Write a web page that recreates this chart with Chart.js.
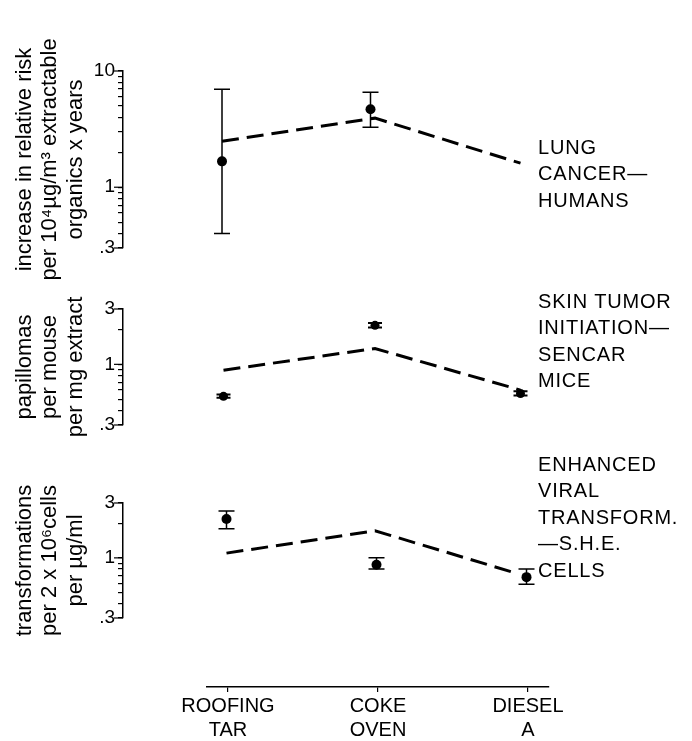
<!DOCTYPE html>
<html>
<head>
<meta charset="utf-8">
<script src="https://cdn.jsdelivr.net/npm/chart.js@4.4.0/dist/chart.umd.min.js"></script>
<style>
html,body{margin:0;padding:0;background:#fff;}
#wrap{position:relative;width:692px;height:741px;overflow:hidden;background:#fff;}
canvas{position:absolute;left:0;}
</style>
</head>
<body>
<div id="wrap">
<canvas id="p1" width="692" height="300" style="top:0px"></canvas>
<canvas id="p2" width="692" height="190" style="top:270px"></canvas>
<canvas id="p3" width="692" height="215" style="top:445px"></canvas>
<canvas id="px" width="692" height="86" style="top:655px"></canvas>
</div>
<script>
// ---------- data ----------
const categories = [["ROOFING", "TAR"], ["COKE", "OVEN"], ["DIESEL", "A"]];
const categoryX = [0, 1, 2];

// Panel 1: lung cancer in humans
const lungTitle = ["increase in relative risk", "per 10⁴µg/m³ extractable", "organics x years"];
const lungAxisTicks = [0.3, 0.4, 0.5, 0.6, 0.7, 0.8, 0.9, 1, 2, 3, 4, 5, 6, 7, 8, 9, 10];
const lungMajorTicks = [0.3, 1, 10];
const lungMajorLabels = [".3", "1", "10"];
const lungPointX = [-0.04, 0.95];
const lungValue = [1.67, 4.69];
const lungLow = [0.40, 3.28];
const lungHigh = [6.97, 6.57];
const lungLineX = [-0.04, 0.98, 1.95];
const lungLineY = [2.49, 3.93, 1.61];
const lungLabel = ["LUNG", "CANCER—", "HUMANS"];

// Panel 2: skin tumor initiation, SENCAR mice
const skinTitle = ["papillomas", "per mouse", "per mg extract"];
const skinAxisTicks = [0.3, 0.4, 0.5, 0.6, 0.7, 0.8, 0.9, 1, 2, 3];
const skinMajorTicks = [0.3, 1, 3];
const skinMajorLabels = [".3", "1", "3"];
const skinPointX = [-0.03, 0.98, 1.95];
const skinValue = [0.53, 2.17, 0.56];
const skinLow = [0.515, 2.08, 0.54];
const skinHigh = [0.55, 2.27, 0.585];
const skinLineX = [-0.03, 0.98, 1.95];
const skinLineY = [0.89, 1.37, 0.60];
const skinLabel = ["SKIN TUMOR", "INITIATION—", "SENCAR", "MICE"];

// Panel 3: enhanced viral transformation, S.H.E. cells
const sheTitle = ["transformations", "per 2 x 10⁶cells", "per µg/ml"];
const sheAxisTicks = [0.3, 0.4, 0.5, 0.6, 0.7, 0.8, 0.9, 1, 2, 3];
const sheMajorTicks = [0.3, 1, 3];
const sheMajorLabels = [".3", "1", "3"];
const shePointX = [-0.01, 0.99, 1.99];
const sheValue = [2.18, 0.87, 0.68];
const sheLow = [1.79, 0.80, 0.59];
const sheHigh = [2.56, 1.00, 0.80];
const sheLineX = [-0.01, 0.98, 1.93];
const sheLineY = [1.10, 1.72, 0.73];
const sheLabel = ["ENHANCED", "VIRAL", "TRANSFORM.", "—S.H.E.", "CELLS"];

// ---------- rendering ----------
const FONT = "'Liberation Sans', Arial, Helvetica, sans-serif";

function panelPlugin(cfg) {
  return {
    id: 'panelDecor',
    afterDatasetsDraw(chart) {
      const {ctx, scales: {x, y}} = chart;
      ctx.save();
      ctx.strokeStyle = '#000';
      ctx.lineWidth = cfg.errWidth;
      cfg.px.forEach((xv, i) => {
        const p = x.getPixelForValue(xv);
        const a = y.getPixelForValue(cfg.lo[i]);
        const b = y.getPixelForValue(cfg.hi[i]);
        ctx.beginPath();
        ctx.moveTo(p, a); ctx.lineTo(p, b);
        ctx.moveTo(p - cfg.cap, a); ctx.lineTo(p + cfg.cap, a);
        ctx.moveTo(p - cfg.cap, b); ctx.lineTo(p + cfg.cap, b);
        ctx.stroke();
      });
      ctx.restore();
    },
    afterDraw(chart) {
      const {ctx, chartArea, scales: {x, y}} = chart;
      ctx.save();
      // longer marks for the labelled ticks
      ctx.strokeStyle = '#000';
      ctx.lineWidth = 1.2;
      cfg.majors.forEach(v => {
        const p = y.getPixelForValue(v);
        ctx.beginPath();
        ctx.moveTo(chartArea.left - 9, p);
        ctx.lineTo(chartArea.left, p);
        ctx.stroke();
      });
      // side labels
      ctx.fillStyle = '#000';
      ctx.font = '20px ' + FONT;
      ctx.textAlign = 'left';
      ctx.textBaseline = 'middle';
      try { ctx.letterSpacing = '0.8px'; } catch (e) {}
      const x0 = x.getPixelForValue(2) + 10;
      cfg.label.forEach((t, i) => {
        ctx.fillText(t, x0, chartArea.top + cfg.labelDy + i * 26.5);
      });
      ctx.restore();
    }
  };
}

function makePanel(id, d) {
  const isMajor = v => d.majors.findIndex(m => Math.abs(m - v) < 1e-9);
  new Chart(document.getElementById(id), {
    type: 'scatter',
    data: {
      datasets: [
        {
          data: d.lineX.map((xv, i) => ({x: xv, y: d.lineY[i]})),
          showLine: true,
          borderColor: '#000',
          borderWidth: 3,
          borderDash: [17, 8],
          borderCapStyle: 'butt',
          pointRadius: 0,
          fill: false
        },
        {
          data: d.px.map((xv, i) => ({x: xv, y: d.val[i]})),
          showLine: false,
          pointRadius: d.r,
          pointBackgroundColor: '#000',
          pointBorderColor: '#000',
          pointBorderWidth: 0
        }
      ]
    },
    options: {
      responsive: false,
      animation: false,
      devicePixelRatio: 1,
      events: [],
      layout: {padding: {left: 0, right: 143, top: d.padTop, bottom: d.padBottom}},
      plugins: {legend: {display: false}, tooltip: {enabled: false}},
      scales: {
        x: {type: 'linear', display: false, min: -0.7, max: 2.14},
        y: {
          type: 'logarithmic',
          position: 'left',
          min: d.ticks[0],
          max: d.ticks[d.ticks.length - 1],
          afterBuildTicks: s => { s.ticks = d.ticks.map(v => ({value: v})); },
          afterFit: s => { s.width = 123; },
          ticks: {
            autoSkip: false,
            color: '#000',
            padding: 3,
            font: {family: FONT, size: 19},
            callback: v => { const k = isMajor(v); return k >= 0 ? d.majorLabels[k] : ''; }
          },
          grid: {drawOnChartArea: false, drawTicks: true, tickLength: 5, color: '#000', lineWidth: 1.2},
          border: {display: true, color: '#000', width: 1.5},
          title: {
            display: true,
            text: d.title,
            color: '#000',
            font: {family: FONT, size: 22, lineHeight: '25.5px'},
            padding: {top: 12, bottom: 0}
          }
        }
      }
    },
    plugins: [panelPlugin({px: d.px, lo: d.lo, hi: d.hi, cap: d.cap, errWidth: d.errWidth, majors: d.majors, label: d.label, labelDy: d.labelDy})]
  });
}

makePanel('p1', {
  title: lungTitle, ticks: lungAxisTicks, majors: lungMajorTicks, majorLabels: lungMajorLabels,
  px: lungPointX, val: lungValue, lo: lungLow, hi: lungHigh, lineX: lungLineX, lineY: lungLineY,
  label: lungLabel, labelDy: 77, padTop: 71, padBottom: 52, r: 5, cap: 8, errWidth: 1.5
});
makePanel('p2', {
  title: skinTitle, ticks: skinAxisTicks, majors: skinMajorTicks, majorLabels: skinMajorLabels,
  px: skinPointX, val: skinValue, lo: skinLow, hi: skinHigh, lineX: skinLineX, lineY: skinLineY,
  label: skinLabel, labelDy: -7, padTop: 39, padBottom: 35, r: 4.5, cap: 7, errWidth: 2
});
makePanel('p3', {
  title: sheTitle, ticks: sheAxisTicks, majors: sheMajorTicks, majorLabels: sheMajorLabels,
  px: shePointX, val: sheValue, lo: sheLow, hi: sheHigh, lineX: sheLineX, lineY: sheLineY,
  label: sheLabel, labelDy: -38, padTop: 58, padBottom: 42, r: 5, cap: 8, errWidth: 1.5
});

// shared category axis at the bottom
new Chart(document.getElementById('px'), {
  type: 'scatter',
  data: {datasets: [{data: []}]},
  options: {
    responsive: false,
    animation: false,
    devicePixelRatio: 1,
    events: [],
    layout: {padding: {left: 207, right: 143, top: 0, bottom: 0}},
    plugins: {legend: {display: false}, tooltip: {enabled: false}},
    scales: {
      y: {display: false, min: 0, max: 1},
      x: {
        type: 'linear',
        position: 'bottom',
        min: -0.14,
        max: 2.14,
        afterBuildTicks: s => { s.ticks = categoryX.map(v => ({value: v})); },
        afterFit: s => { s.height = 54; },
        ticks: {
          autoSkip: false,
          maxRotation: 0,
          color: '#000',
          padding: 2,
          font: {family: FONT, size: 20, lineHeight: '24px'},
          callback: v => { const k = categoryX.indexOf(v); return k >= 0 ? categories[k] : ''; }
        },
        grid: {drawOnChartArea: false, drawTicks: true, tickLength: 5, color: '#000', lineWidth: 1.2},
        border: {display: true, color: '#000', width: 1.5}
      }
    }
  }
});
</script>
</body>
</html>
